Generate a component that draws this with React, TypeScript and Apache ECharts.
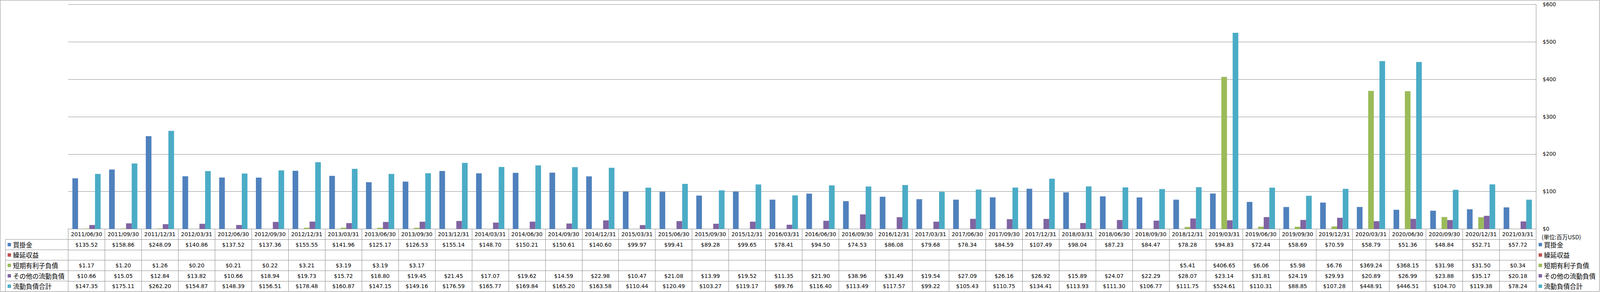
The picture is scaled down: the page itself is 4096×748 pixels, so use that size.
import React, { useEffect, useRef } from "react";
import * as echarts from "echarts";

// ---------- data ----------
const dates = [
  "2011/06/30", "2011/09/30", "2011/12/31", "2012/03/31", "2012/06/30", "2012/09/30", "2012/12/31", "2013/03/31",
  "2013/06/30", "2013/09/30", "2013/12/31", "2014/03/31", "2014/06/30", "2014/09/30", "2014/12/31", "2015/03/31",
  "2015/06/30", "2015/09/30", "2015/12/31", "2016/03/31", "2016/06/30", "2016/09/30", "2016/12/31", "2017/03/31",
  "2017/06/30", "2017/09/30", "2017/12/31", "2018/03/31", "2018/06/30", "2018/09/30", "2018/12/31", "2019/03/31",
  "2019/06/30", "2019/09/30", "2019/12/31", "2020/03/31", "2020/06/30", "2020/09/30", "2020/12/31", "2021/03/31",
];

const seriesNames = ["買掛金", "繰延収益", "短期有利子負債", "その他の流動負債", "流動負債合計"];

const payables = [
  135.52, 158.86, 248.09, 140.86, 137.52, 137.36, 155.55, 141.96, 125.17, 126.53,
  155.14, 148.7, 150.21, 150.61, 140.6, 99.97, 99.41, 89.28, 99.65, 78.41,
  94.5, 74.53, 86.08, 79.68, 78.34, 84.59, 107.49, 98.04, 87.23, 84.47,
  78.28, 94.83, 72.44, 58.69, 70.59, 58.79, 51.36, 48.84, 52.71, 57.72,
];

const deferredRevenue: (number | null)[] = [
  null, null, null, null, null, null, null, null, null, null,
  null, null, null, null, null, null, null, null, null, null,
  null, null, null, null, null, null, null, null, null, null,
  null, null, null, null, null, null, null, null, null, null,
];

const shortTermDebt: (number | null)[] = [
  1.17, 1.2, 1.26, 0.2, 0.21, 0.22, 3.21, 3.19, 3.19, 3.17,
  null, null, null, null, null, null, null, null, null, null,
  null, null, null, null, null, null, null, null, null, null,
  5.41, 406.65, 6.06, 5.98, 6.76, 369.24, 368.15, 31.98, 31.5, 0.34,
];

const otherCurrent = [
  10.66, 15.05, 12.84, 13.82, 10.66, 18.94, 19.73, 15.72, 18.8, 19.45,
  21.45, 17.07, 19.62, 14.59, 22.98, 10.47, 21.08, 13.99, 19.52, 11.35,
  21.9, 38.96, 31.49, 19.54, 27.09, 26.16, 26.92, 15.89, 24.07, 22.29,
  28.07, 23.14, 31.81, 24.19, 29.93, 20.89, 26.99, 23.88, 35.17, 20.18,
];

const totalCurrent = [
  147.35, 175.11, 262.2, 154.87, 148.39, 156.51, 178.48, 160.87, 147.15, 149.16,
  176.59, 165.77, 169.84, 165.2, 163.58, 110.44, 120.49, 103.27, 119.17, 89.76,
  116.4, 113.49, 117.57, 99.22, 105.43, 110.75, 134.41, 113.93, 111.3, 106.77,
  111.75, 524.61, 110.31, 88.85, 107.28, 448.91, 446.51, 104.7, 119.38, 78.24,
];

const yMin = 0;
const yMax = 600;
const yInterval = 100;
const unitLabel = "(単位:百万USD)";

// ---------- layout / style ----------
const W = 4096;
const H = 748;
const S = 4096 / 4701;
const GRID_LEFT = 200.3 * S;
const GRID_RIGHT_X = 4513.3 * S;
const GRID_TOP = 13.4 * S;
const BASE_Y = 673.2 * S;
const ROW_H = 30.6 * S;
const GRAY = "#898989";
const LATIN = "'DejaVu Sans', Verdana, sans-serif";
const CJK = "'Noto Sans CJK JP', sans-serif";
const COLORS = ["#4F81BD", "#C0504D", "#9BBB59", "#8064A2", "#4BACC6"];

const fmt = (v: number | null) => (v == null ? "" : "$" + v.toFixed(2));

const tableAxis = (data: string[], k: number) => ({
  type: "category",
  gridIndex: 0,
  position: "bottom",
  offset: k * ROW_H,
  data,
  boundaryGap: true,
  min: 0,
  max: data.length - 1,
  axisLine: { show: true, onZero: false, lineStyle: { color: GRAY, width: 1 } },
  axisTick: { show: true, interval: 0, length: ROW_H, lineStyle: { color: GRAY, width: 1 } },
  axisLabel: {
    show: true,
    interval: 0,
    margin: ROW_H / 2,
    verticalAlign: "middle",
    color: "#000",
    fontFamily: LATIN,
    fontSize: 13.9,
    hideOverlap: false,
  },
  splitLine: { show: false },
});

export default function App() {
  const ref = useRef<HTMLDivElement>(null);

  useEffect(() => {
    if (!ref.current) return;
    const chart = echarts.init(ref.current, undefined, { renderer: "svg", width: W, height: H });

    const rowsData = [payables, deferredRevenue, shortTermDebt, otherCurrent, totalCurrent];

    const xAxes: any[] = [tableAxis(dates, 0)];
    rowsData.forEach((arr, i) => xAxes.push(tableAxis(arr.map(fmt), i + 1)));

    const legendCommon = {
      orient: "vertical",
      top: BASE_Y + ROW_H,
      itemGap: 0,
      itemWidth: 8.7,
      itemHeight: 8.7,
      icon: "rect",
      padding: 0,
      selectedMode: false,
      data: seriesNames,
      textStyle: { fontFamily: CJK, fontSize: 16.5, lineHeight: ROW_H, color: "#000" },
    };

    const graphics: any[] = [
      {
        type: "rect",
        shape: { x: 0.5, y: 0.5, width: 4094, height: 746 },
        style: { fill: "none", stroke: GRAY, lineWidth: 1 },
        silent: true,
      },
      {
        type: "line",
        shape: { x1: 14, y1: BASE_Y + ROW_H, x2: 14, y2: BASE_Y + 6 * ROW_H },
        style: { stroke: GRAY, lineWidth: 1 },
        silent: true,
      },
      {
        type: "text",
        x: 4529.5 * S,
        y: 696.3 * S,
        style: {
          text: unitLabel,
          fontFamily: CJK,
          fontSize: 14.5,
          fill: "#000",
          verticalAlign: "middle",
          align: "left",
        },
        silent: true,
      },
    ];
    for (let k = 1; k <= 5; k++) {
      graphics.push({
        type: "line",
        shape: { x1: 14, y1: BASE_Y + k * ROW_H, x2: GRID_LEFT, y2: BASE_Y + k * ROW_H },
        style: { stroke: GRAY, lineWidth: 1 },
        silent: true,
      });
    }

    chart.setOption({
      animation: false,
      backgroundColor: "#ffffff",
      color: COLORS,
      grid: {
        left: GRID_LEFT,
        right: W - GRID_RIGHT_X,
        top: GRID_TOP,
        bottom: H - BASE_Y,
        containLabel: false,
      },
      legend: [
        { ...legendCommon, left: 19.5 },
        { ...legendCommon, left: 4520.7 * S },
      ],
      xAxis: xAxes,
      yAxis: {
        type: "value",
        position: "right",
        min: yMin,
        max: yMax,
        interval: yInterval,
        axisLine: { show: true, lineStyle: { color: GRAY, width: 1 } },
        axisTick: { show: false },
        splitLine: { show: true, lineStyle: { color: GRAY, width: 1 } },
        axisLabel: {
          formatter: (v: number) => "$" + v,
          margin: (4532.5 - 4513.3) * S,
          color: "#000",
          fontFamily: LATIN,
          fontSize: 13.4,
        },
      },
      series: rowsData.map((arr, i) => ({
        name: seriesNames[i],
        type: "bar",
        xAxisIndex: 0,
        yAxisIndex: 0,
        data: arr,
        barGap: "0%",
        barCategoryGap: "23%",
        itemStyle: { color: COLORS[i] },
      })),
      graphic: graphics,
    });

    return () => chart.dispose();
  }, []);

  return (
    <div
      ref={ref}
      style={{ position: "fixed", left: 0, top: 0, width: W, height: H, background: "#fff" }}
    />
  );
}
